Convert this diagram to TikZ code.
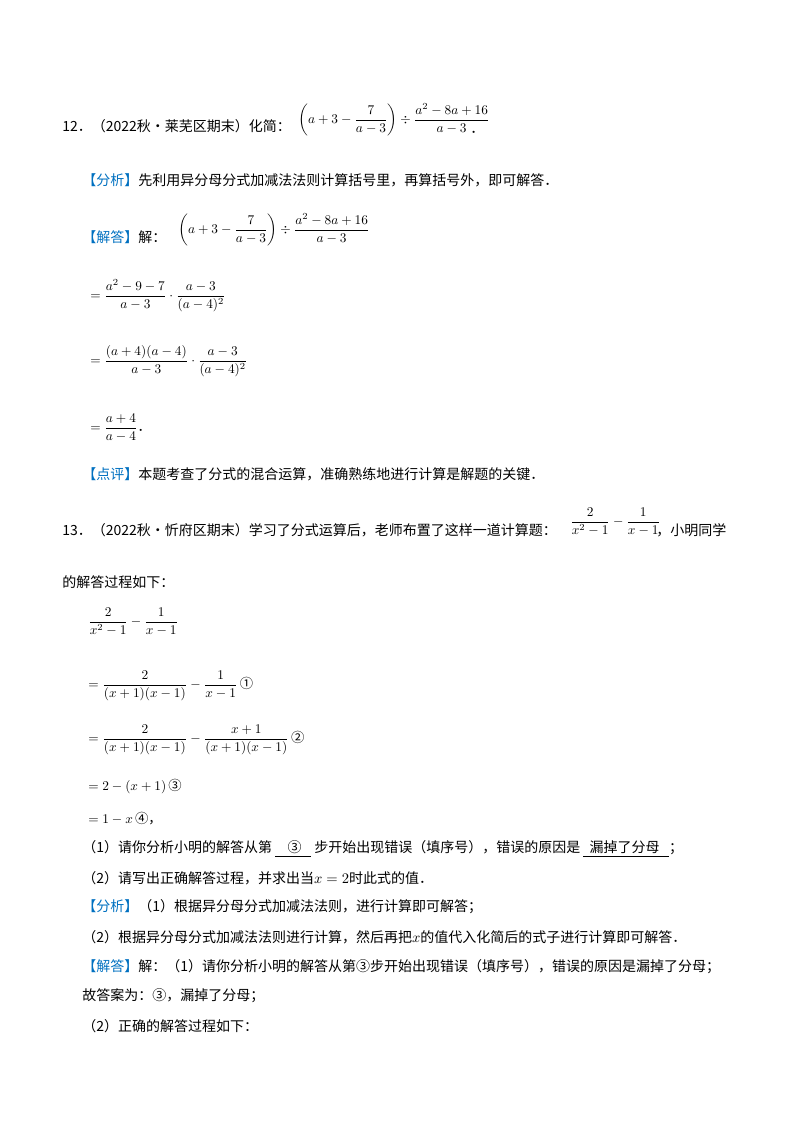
\documentclass[tikz,border=0pt]{standalone}
\usepackage{amsmath}
\usepackage{fontspec}
\newfontfamily\cjk{Noto Sans CJK SC}
\definecolor{tagblue}{RGB}{0,112,192}
\begin{document}
\begin{tikzpicture}[x=0.75pt,y=-0.75pt,
  t/.style={anchor=west,inner sep=0pt,font=\cjk\fontsize{10.5pt}{12pt}\selectfont},
  m/.style={anchor=west,inner sep=0pt,font=\fontsize{10pt}{12pt}\selectfont}]
\useasboundingbox (0,0) rectangle (800,1132);
\newcommand\tagb[1]{\textcolor{tagblue}{【#1】}}
% problem 12
\node[t] (p12) at (62,126) {12．（2022秋•莱芜区期末）化简：};
\node[m] (f12) at (298,120) {$\left(a+3-\dfrac{7}{a-3}\right)\div\dfrac{a^{2}-8a+16}{a-3}$};
\node[t] (d12) at (470,132) {．};
\node[t] (a12) at (82,180) {\tagb{分析}先利用异分母分式加减法法则计算括号里，再算括号外，即可解答．};
\node[t] (j12) at (82,237) {\tagb{解答}解：};
\node[m] (g12) at (178,230) {$\left(a+3-\dfrac{7}{a-3}\right)\div\dfrac{a^{2}-8a+16}{a-3}$};
\node[m] (e1) at (90,296) {$=\dfrac{a^{2}-9-7}{a-3}\cdot\dfrac{a-3}{(a-4)^{2}}$};
\node[m] (e2) at (90,361) {$=\dfrac{(a+4)(a-4)}{a-3}\cdot\dfrac{a-3}{(a-4)^{2}}$};
\node[m] (e3) at (90,428) {$=\dfrac{a+4}{a-4}${\cjk ．}};
\node[t] (c12) at (82,474) {\tagb{点评}本题考查了分式的混合运算，准确熟练地进行计算是解题的关键．};
% problem 13
\node[t] (p13) at (62,530) {13．（2022秋•忻府区期末）学习了分式运算后，老师布置了这样一道计算题：};
\node[m] (f13) at (570,522) {$\dfrac{2}{x^{2}-1}-\dfrac{1}{x-1}$};
\node[t] (q13) at (656,530) {，小明同学};
\node[t] (l2) at (62,582) {的解答过程如下：};
\node[m] (s0) at (88,622) {$\dfrac{2}{x^{2}-1}-\dfrac{1}{x-1}$};
\node[m] (s1) at (88,686) {$=\dfrac{2}{(x+1)(x-1)}-\dfrac{1}{x-1}$\,{\cjk ①}};
\node[m] (s2) at (88,740) {$=\dfrac{2}{(x+1)(x-1)}-\dfrac{x+1}{(x+1)(x-1)}$\,{\cjk ②}};
\node[m] (s3) at (88,787) {$=2-(x+1)$\,{\cjk ③}};
\node[m] (s4) at (88,819) {$=1-x$\,{\cjk ④，}};
\node[t] (q1) at (82,849) {（1）请你分析小明的解答从第\ \underline{\ \ \ \ ③\ \ \ }\ 步开始出现错误（填序号），错误的原因是\ \underline{\ \ 漏掉了分母\ \ \ }；};
\node[t] (q2) at (82,878) {（2）请写出正确解答过程，并求出当$x=2$时此式的值．};
\node[t] (a1) at (82,907) {\tagb{分析}（1）根据异分母分式加减法法则，进行计算即可解答；};
\node[t] (a2) at (82,937) {（2）根据异分母分式加减法法则进行计算，然后再把$x$的值代入化简后的式子进行计算即可解答．};
\node[t] (j1) at (82,967) {\tagb{解答}解：（1）请你分析小明的解答从第③步开始出现错误（填序号），错误的原因是漏掉了分母；};
\node[t] (j2) at (82,996) {故答案为：③，漏掉了分母；};
\node[t] (j3) at (82,1026) {（2）正确的解答过程如下：};
\end{tikzpicture}
\end{document}
